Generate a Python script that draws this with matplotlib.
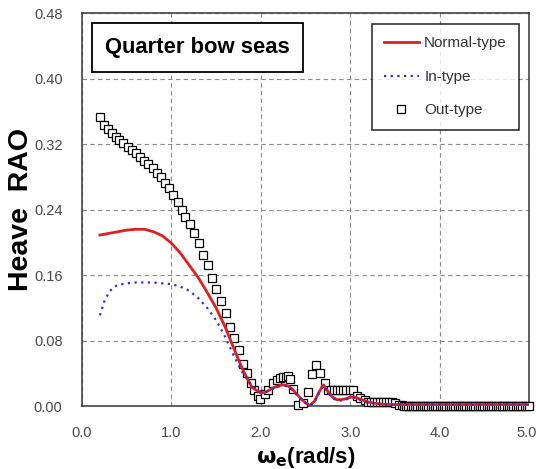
import matplotlib
matplotlib.use('Agg')
import matplotlib.pyplot as plt
import matplotlib.transforms as mtransforms
from matplotlib.patches import Rectangle

plt.rcParams['font.family'] = ['Liberation Sans', 'DejaVu Sans']

# Normal-type RAO curve
normal_w = [0.20, 0.30, 0.40, 0.50, 0.60, 0.70, 0.80, 0.90, 1.00, 1.10, 1.20, 1.30, 1.40,
            1.50, 1.60, 1.70, 1.80, 1.90, 2.00, 2.05, 2.10, 2.15, 2.20, 2.25, 2.30, 2.35,
            2.40, 2.45, 2.50, 2.55, 2.60, 2.65, 2.70, 2.75, 2.80, 2.85, 2.90, 2.95, 3.00,
            3.05, 3.10, 3.15, 3.20, 3.30, 3.40, 3.50, 3.70, 4.00, 4.50, 5.00]
normal_rao = [0.209, 0.211, 0.213, 0.215, 0.216, 0.216, 0.213, 0.208, 0.199, 0.187, 0.172,
              0.157, 0.139, 0.120, 0.097, 0.070, 0.044, 0.023, 0.016, 0.017, 0.020, 0.023,
              0.025, 0.026, 0.025, 0.021, 0.015, 0.009, 0.004, 0.001, 0.006, 0.017, 0.026,
              0.018, 0.011, 0.008, 0.008, 0.009, 0.011, 0.011, 0.009, 0.007, 0.005, 0.003,
              0.002, 0.002, 0.002, 0.002, 0.002, 0.002]

# In-type RAO curve
in_w = [0.20, 0.25, 0.30, 0.35, 0.40, 0.50, 0.60, 0.70, 0.80, 0.90, 1.00, 1.10, 1.20, 1.30,
        1.40, 1.50, 1.60, 1.70, 1.80, 1.90, 2.00, 2.05, 2.10, 2.15, 2.20, 2.25, 2.30, 2.35,
        2.40, 2.45, 2.50, 2.55, 2.60, 2.65, 2.70, 2.75, 2.80, 2.85, 2.90, 2.95, 3.00, 3.05,
        3.10, 3.15, 3.20, 3.30, 3.40, 3.50, 3.70, 4.00, 4.50, 5.00]
in_rao = [0.111, 0.128, 0.139, 0.145, 0.148, 0.150, 0.151, 0.151, 0.151, 0.150, 0.149,
          0.146, 0.141, 0.132, 0.120, 0.105, 0.085, 0.061, 0.040, 0.025, 0.018, 0.017,
          0.019, 0.022, 0.024, 0.025, 0.024, 0.020, 0.014, 0.008, 0.004, 0.001, 0.005,
          0.016, 0.025, 0.017, 0.010, 0.007, 0.007, 0.008, 0.010, 0.010, 0.008, 0.006,
          0.004, 0.003, 0.002, 0.002, 0.002, 0.002, 0.002, 0.002]

# Out-type RAO points
out_w = [0.20, 0.25, 0.29, 0.34, 0.38, 0.41, 0.46, 0.52, 0.56, 0.60, 0.65, 0.69, 0.74, 0.79,
         0.84, 0.88, 0.93, 0.97, 1.02, 1.07, 1.12, 1.15, 1.21, 1.25, 1.31, 1.35, 1.41, 1.45,
         1.50, 1.56, 1.61, 1.66, 1.70, 1.76, 1.80, 1.85, 1.89, 1.92, 1.97, 1.99, 2.05, 2.08,
         2.14, 2.18, 2.21, 2.25, 2.28, 2.30, 2.33, 2.36, 2.42, 2.47, 2.53, 2.57, 2.62, 2.66,
         2.72, 2.75, 2.79, 2.82, 2.85, 2.89, 2.92, 2.95, 3.00, 3.03, 3.08, 3.11, 3.17, 3.20,
         3.23, 3.27, 3.30, 3.33, 3.37, 3.40, 3.43, 3.47, 3.50,
         3.550, 3.575, 3.600, 3.625, 3.650, 3.675, 3.700, 3.725, 3.750, 3.775, 3.800, 3.825,
         3.850, 3.875, 3.900, 3.925, 3.950, 3.975, 4.000, 4.025, 4.050, 4.075, 4.100, 4.125,
         4.150, 4.175, 4.200, 4.225, 4.250, 4.275, 4.300, 4.325, 4.350, 4.375, 4.400, 4.425,
         4.450, 4.475, 4.500, 4.525, 4.550, 4.575, 4.600, 4.625, 4.650, 4.675, 4.700, 4.725,
         4.750, 4.775, 4.800, 4.825, 4.850, 4.875, 4.900, 4.925, 4.950, 4.975, 5.000]
out_rao = [0.353, 0.343, 0.338, 0.333, 0.329, 0.325, 0.321, 0.316, 0.313, 0.309, 0.304,
           0.300, 0.296, 0.291, 0.285, 0.280, 0.273, 0.266, 0.258, 0.249, 0.240, 0.231,
           0.222, 0.212, 0.199, 0.185, 0.172, 0.156, 0.143, 0.128, 0.114, 0.097, 0.083,
           0.068, 0.052, 0.040, 0.028, 0.020, 0.013, 0.009, 0.015, 0.020, 0.028, 0.032,
           0.034, 0.035, 0.036, 0.037, 0.033, 0.021, 0.001, 0.004, 0.017, 0.039, 0.050,
           0.041, 0.028, 0.020, 0.020, 0.020, 0.020, 0.020, 0.020, 0.020, 0.020, 0.020,
           0.013, 0.010, 0.007, 0.005, 0.005, 0.005, 0.005, 0.005, 0.005, 0.005, 0.005,
           0.005, 0.004,
           0.001, 0.001, 0.000, 0.000, 0.000, 0.000, 0.000, 0.000, 0.000, 0.000, 0.000, 0.000,
           0.000, 0.000, 0.000, 0.000, 0.000, 0.000, 0.000, 0.000, 0.000, 0.000, 0.000, 0.000,
           0.000, 0.000, 0.000, 0.000, 0.000, 0.000, 0.000, 0.000, 0.000, 0.000, 0.000, 0.000,
           0.000, 0.000, 0.000, 0.000, 0.000, 0.000, 0.000, 0.000, 0.000, 0.000, 0.000, 0.000,
           0.000, 0.000, 0.000, 0.000, 0.000, 0.000, 0.000, 0.000, 0.000, 0.000, 0.000]

x_ticks = [0.0, 1.0, 2.0, 3.0, 4.0, 5.0]
y_ticks = [0.00, 0.08, 0.16, 0.24, 0.32, 0.40, 0.48]

fig = plt.figure(figsize=(5.36, 4.69), dpi=100)
ax = fig.add_axes([0.153, 0.134, 0.834, 0.838])

ax.plot(out_w, out_rao, linestyle='none', marker='s', markersize=5.6,
        markerfacecolor='white', markeredgecolor='black', markeredgewidth=0.9,
        label='Out-type', clip_on=False, zorder=3)
ax.plot(normal_w, normal_rao, color='#e02020', linewidth=2.0, label='Normal-type', zorder=4)
ax.plot(in_w, in_rao, color='#3030d0', linewidth=1.6, linestyle=(0, (1, 2)),
        label='In-type', zorder=5)

ax.set_xlim(0, 5)
ax.set_ylim(0, 0.48)
ax.set_xticks(x_ticks)
ax.set_yticks(y_ticks)
ax.set_xticklabels(['%.1f' % v for v in x_ticks])
ax.set_yticklabels(['%.2f' % v for v in y_ticks])
ax.tick_params(length=0, labelsize=10.5, labelcolor='#4a4a4a', pad=14)
ax.grid(True, color='#8c8c8c', linestyle=(0, (4, 3)), linewidth=0.8)
ax.set_axisbelow(True)
for s in ax.spines.values():
    s.set_color('#444444')
    s.set_linewidth(1.2)

# keep the last x label inside the figure
last = ax.get_xticklabels()[-1]
last.set_transform(last.get_transform() +
                   mtransforms.ScaledTranslation(-2.5 / 100, 0, fig.dpi_scale_trans))

ax.set_xlabel(r'$\mathbf{\omega_e}$(rad/s)', fontsize=16, fontweight='bold', labelpad=4)
ax.set_ylabel('Heave  RAO', fontsize=20.5, fontweight='bold', labelpad=0)

# title box
ax.add_patch(Rectangle((0.0224, 0.850), 0.472, 0.1246, transform=ax.transAxes,
                       facecolor='white', edgecolor='black', linewidth=1.3, zorder=6))
ax.text(0.258, 0.912, 'Quarter bow seas', transform=ax.transAxes, fontsize=15.8,
        fontweight='bold', va='center', ha='center', zorder=7)

h, l = ax.get_legend_handles_labels()
order = [1, 2, 0]
leg = ax.legend([h[i] for i in order], [l[i] for i in order], loc='upper right',
                bbox_to_anchor=(0.978, 0.972), borderaxespad=0, fontsize=11,
                frameon=True, fancybox=False, edgecolor='black', handlelength=2.3,
                handletextpad=0.35, labelspacing=1.28, borderpad=0.8, numpoints=1)
leg.get_frame().set_linewidth(1.2)
leg.set_zorder(8)
for t in leg.get_texts():
    t.set_color('#333333')

fig.savefig('out.png', dpi=100)
